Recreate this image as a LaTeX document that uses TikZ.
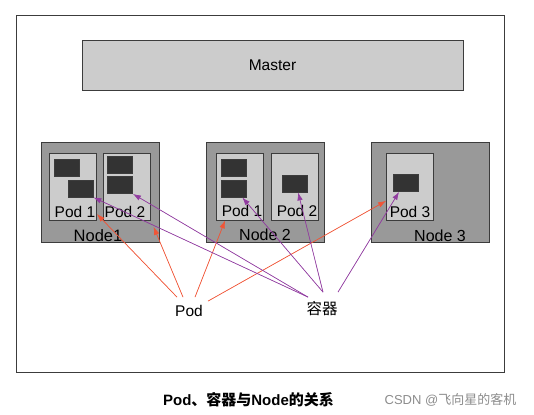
\documentclass[tikz,border=0pt]{standalone}
\usepackage{fontspec}
\setmainfont{Liberation Sans}
\newfontfamily\cjk{Noto Sans CJK SC}
\usepackage{tikz}
\usetikzlibrary{arrows,arrows.meta}
\definecolor{podred}{RGB}{240,85,55}
\definecolor{ctrpurple}{RGB}{145,60,160}
\definecolor{edgegray}{RGB}{60,60,60}

\begin{document}
\begin{tikzpicture}[x=1pt,y=-1pt,
    box/.style={draw=edgegray,line width=0.8pt,inner sep=0pt,rectangle},
    machine/.style={box,fill=black!40,minimum width=118pt,minimum height=100pt},
    podbox/.style={box,fill=black!20,minimum width=47pt,minimum height=67pt},
    ctrbox/.style={box,fill=black!80,minimum width=25pt,minimum height=17pt},
    lbl/.style={font=\fontsize{15.5}{18}\selectfont,inner sep=0pt},
    redarrow/.style={-{Latex[length=8pt,width=5.5pt]},draw=podred,fill=podred,line width=0.7pt},
    purplearrow/.style={-{Latex[length=8pt,width=5.5pt]},draw=ctrpurple,fill=ctrpurple,line width=0.7pt}]
  \useasboundingbox (0,0) rectangle (534,414);
  \draw[edgegray,line width=0.8pt] (16,15) rectangle (504,372);
  \node[box,fill=black!20,minimum width=381pt,minimum height=50pt,lbl] (master) at (272.5,65) {Master};
  % machines, pods and containers
  \foreach \n/\x in {1/100,2/265,3/430.5}
    \node[machine] (n\n) at (\x,192) {};
  \foreach \p/\x in {11/73,12/127,21/239.5,22/295,31/410}
    \node[podbox] (p\p) at (\x,186.5) {};
  \foreach \c/\x/\y in {111/66.5/168,112/80.5/188.5,121/120/165,122/120/185,211/234/168,212/234/188.5,221/294.5/183.5,311/405.5/183}
    \node[ctrbox] (c\c) at (\x,\y) {};
  \node[lbl,font=\fontsize{16.5}{18}\selectfont] at (98,236) {Node1};
  \node[lbl,font=\fontsize{16}{18}\selectfont] at (265,235) {Node 2};
  \node[lbl,font=\fontsize{16}{18}\selectfont] at (440,236) {Node 3};
  \node[lbl] at (75,212) {Pod 1};
  \node[lbl] at (125,212) {Pod 2};
  \node[lbl] at (242,211) {Pod 1};
  \node[lbl] at (297,211) {Pod 2};
  \node[lbl] at (410,212) {Pod 3};
  \node[lbl] (pod) at (189,311) {Pod};
  \node[lbl] (ctr) at (322,309) {\cjk 容器};
  % Pod arrows
  \draw[redarrow] ([xshift=-12pt,yshift=8pt]pod.north) -- (p11.-49);
  \draw[redarrow,shorten >=7pt] ([xshift=-6pt,yshift=8pt]pod.north) -- (p12.south east);
  \draw[redarrow] ([xshift=6pt,yshift=8pt]pod.north) -- (p21.-113);
  \draw[redarrow] ([xshift=19pt,yshift=4pt]pod.north) -- (p31.-149);
  % container arrows
  \draw[purplearrow] ([xshift=-14pt,yshift=4.5pt]ctr.north) -- (c112.south east);
  \draw[purplearrow] ([xshift=-14pt,yshift=4.5pt]ctr.north) -- (c122.south east);
  \draw[purplearrow] ([xshift=1pt,yshift=9.5pt]ctr.north) -- (c212.-47);
  \draw[purplearrow] ([xshift=1pt,yshift=9.5pt]ctr.north) -- (c221.-68);
  \draw[purplearrow] ([xshift=16pt,yshift=9.5pt]ctr.north) -- (c311.-126);
  \node[lbl,font=\fontsize{15}{18}\selectfont\bfseries] (caption) at (248.5,400) {Pod{\cjk 、容器与}Node{\cjk 的关系}};
  \node[lbl,text=black!45,font=\fontsize{13}{15}\selectfont] (mark) at (450.5,400) {CSDN @{\cjk 飞向星的客机}};
\end{tikzpicture}
\end{document}
